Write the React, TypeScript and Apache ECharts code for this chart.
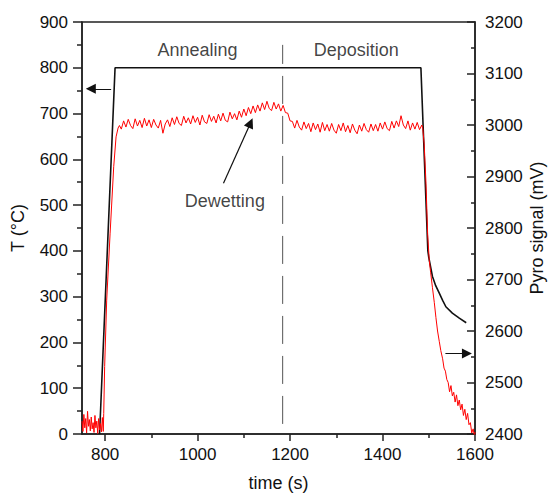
import React, { useEffect, useRef } from 'react';
import * as echarts from 'echarts';

// ---- axis ticks ----
const xTickValues = [800, 1000, 1200, 1400, 1600];
const xMinorTickValues = [900, 1100, 1300, 1500];

// ---- temperature set profile (left axis, °C) ----
const tempProfile: [number, number][] = [
  [788, 0], [821.5, 800], [1483, 800], [1498, 400], [1500, 386], [1508, 344],
  [1515, 324], [1523, 307], [1530, 292], [1537, 278], [1551, 264], [1566, 253], [1581, 243],
];

// ---- pyrometer signal (right axis, mV) ----
const pyroBaseline: [number, number][] = [
  [750, 2425], [752, 2405], [754, 2438], [756, 2412], [758, 2430], [760, 2402], [762, 2444],
  [764, 2415], [766, 2428], [768, 2406], [770, 2433], [772, 2410], [774, 2422], [776, 2403],
  [778, 2436], [780, 2412], [782, 2425], [784, 2401], [786, 2430], [788, 2408], [790, 2420],
  [792, 2404], [794, 2432], [796, 2405],
];
const pyroRise: [number, number][] = [
  [797, 2440], [799, 2531], [803.4, 2660], [810.8, 2790], [818.6, 2919], [823.7, 2977],
  [828, 2994], [831, 2999],
];
const plateauStart = 835;
const plateauStep = 5;
const pyroPlateau: number[] = [
  2992, 3008, 2996, 3011, 2999, 2993, 3012, 2998, 3009, 2995,
  3013, 2998, 3010, 2995, 3011, 3000, 2994, 3009, 2984, 3002,
  3010, 2997, 3014, 3001, 3016, 3003, 2999, 3017, 3004, 3014,
  3002, 3018, 3005, 3015, 3000, 3019, 3006, 3003, 3020, 3007,
  3017, 3004, 3021, 3008, 3023, 3009, 3006, 3025, 3012, 3022,
  3010, 3027, 3015, 3031, 3018, 3034, 3022, 3037, 3024, 3039,
  3027, 3043, 3030, 3046, 3032, 3028, 3044, 3031, 3041, 3027,
  3038, 3024, 3023, 3008, 3007, 2994, 3009, 2996, 2990, 3006,
  2993, 3003, 2987, 3004, 2991, 3002, 2986, 3005, 2989, 3001,
  2988, 3003, 2990, 2984, 3001, 2989, 3004, 2987, 2999, 2985,
  3002, 2990, 2983, 3000, 2988, 3003, 2991, 2986, 3002, 2989,
  3001, 2988, 3004, 2992, 3006, 2993, 2989, 3007, 2994, 3008,
  2997, 3018, 3000, 2993, 3008, 2990, 3004, 2992, 3005, 2991,
  3000,
];
const pyroFall: [number, number][] = [
  [1487, 2993], [1490, 2964], [1494, 2887], [1497.5, 2790], [1501, 2738], [1504, 2714],
  [1508, 2684], [1512, 2655], [1515.5, 2626], [1519, 2600], [1522.7, 2580], [1526, 2562],
  [1530, 2546], [1533, 2528], [1536, 2522], [1539, 2506], [1542, 2500], [1545, 2482],
  [1548, 2494], [1551, 2474], [1554, 2481], [1557, 2462], [1560, 2476], [1563, 2455],
  [1566, 2466], [1569, 2447], [1572, 2458], [1575, 2436], [1578, 2448], [1581, 2428],
  [1584, 2440], [1587, 2418], [1590, 2422], [1593, 2402], [1596, 2410], [1599, 2394], [1600, 2404],
];

// ---- phase boundary and annotations (data coordinates, left axis) ----
const phaseBoundaryTime = 1184;
const phaseBoundaryRange = [22, 850];
const annotationLabels = ['Annealing', 'Deposition', 'Dewetting'];
const annotationAnchors: [number, number][] = [[1000, 838], [1343, 838], [1059, 509]];
const arrowCoords: [number, number][][] = [
  [[813, 754], [769, 754]],
  [[1536, 176], [1582.6, 176]],
  [[1056, 548], [1114.5, 679.6]],
];

const FONT = '"Liberation Sans", Arial, Helvetica, sans-serif';
const INK = '#111';
const AXIS = '#222';

export default function App() {
  const ref = useRef<HTMLDivElement>(null);
  useEffect(() => {
    const chart = echarts.init(ref.current!, null, { renderer: 'svg' });
    const pyro: [number, number][] = [
      ...pyroBaseline,
      ...pyroRise,
      ...pyroPlateau.map((v, i) => [plateauStart + i * plateauStep, v] as [number, number]),
      ...pyroFall,
    ];
    const axisLineStyle = { color: AXIS, width: 1.5 };
    const plain = (v: number) => String(v);
    chart.setOption({
      animation: false,
      grid: {
        left: 82, right: 74, top: 22, bottom: 61,
        outerBoundsMode: 'none', containLabel: false,
        show: true, borderColor: AXIS, borderWidth: 1.5, backgroundColor: 'transparent',
      },
      xAxis: [
        {
          type: 'value', min: 750, max: 1600, position: 'bottom',
          name: 'time (s)', nameLocation: 'middle', nameGap: 40, nameMoveOverlap: false,
          nameTextStyle: { fontSize: 18, color: INK, fontFamily: FONT },
          axisLine: { show: true, onZero: false, lineStyle: axisLineStyle },
          axisTick: { show: true, customValues: xTickValues, length: 7, lineStyle: axisLineStyle },
          axisLabel: { customValues: xTickValues, formatter: plain, fontSize: 17, color: INK, fontFamily: FONT, margin: 12 },
          splitLine: { show: false },
        },
        {
          type: 'value', min: 750, max: 1600, position: 'bottom',
          axisLine: { show: false },
          axisTick: { show: true, customValues: xMinorTickValues, length: 4, lineStyle: axisLineStyle },
          axisLabel: { show: false },
          splitLine: { show: false },
        },
      ],
      yAxis: [
        {
          type: 'value', min: 0, max: 900, interval: 100, position: 'left',
          name: 'T (°C)', nameLocation: 'middle', nameGap: 55, nameRotate: 90, nameMoveOverlap: false,
          nameTextStyle: { fontSize: 18, color: INK, fontFamily: FONT },
          axisLine: { show: true, onZero: false, lineStyle: axisLineStyle },
          axisTick: { show: true, length: 9, lineStyle: axisLineStyle },
          minorTick: { show: true, splitNumber: 2, length: 5, lineStyle: axisLineStyle },
          axisLabel: { formatter: plain, fontSize: 17, color: INK, fontFamily: FONT, margin: 14 },
          splitLine: { show: false }, minorSplitLine: { show: false },
        },
        {
          type: 'value', min: 2400, max: 3200, interval: 100, position: 'right',
          name: 'Pyro signal (mV)', nameLocation: 'middle', nameGap: 53, nameRotate: 90, nameMoveOverlap: false,
          nameTextStyle: { fontSize: 18, lineHeight: 18, color: INK, fontFamily: FONT },
          axisLine: { show: true, onZero: false, lineStyle: axisLineStyle },
          axisTick: { show: true, inside: true, length: 8, lineStyle: axisLineStyle },
          minorTick: { show: true, splitNumber: 2, length: 4, lineStyle: axisLineStyle },
          axisLabel: { formatter: plain, fontSize: 17, color: INK, fontFamily: FONT, margin: 10 },
          splitLine: { show: false }, minorSplitLine: { show: false },
        },
      ],
      series: [
        {
          type: 'line', xAxisIndex: 0, yAxisIndex: 0, data: tempProfile,
          symbol: 'none', lineStyle: { color: '#111', width: 1.6 }, z: 3, silent: true,
        },
        {
          type: 'line', xAxisIndex: 0, yAxisIndex: 1, data: pyro,
          symbol: 'none', lineStyle: { color: '#ff0000', width: 1 }, z: 4, silent: true,
        },
        {
          type: 'line', xAxisIndex: 0, yAxisIndex: 0,
          data: [[phaseBoundaryTime, phaseBoundaryRange[0]], [phaseBoundaryTime, phaseBoundaryRange[1]]],
          symbol: 'none', lineStyle: { color: '#555', width: 1, type: [28, 12] }, z: 2, silent: true,
        },
        {
          type: 'lines', coordinateSystem: 'cartesian2d', xAxisIndex: 0, yAxisIndex: 0,
          symbol: ['none', 'triangle'], symbolSize: [7, 10],
          lineStyle: { color: '#111', width: 1.2, opacity: 1 },
          itemStyle: { color: '#111' },
          data: arrowCoords.map((c) => ({ coords: c })), z: 5, silent: true,
        },
        {
          type: 'scatter', xAxisIndex: 0, yAxisIndex: 0,
          data: annotationAnchors.map((a, i) => [a[0], a[1], annotationLabels[i]]),
          symbolSize: 1, itemStyle: { color: 'transparent' }, silent: true, z: 6,
          label: {
            show: true, position: 'inside', formatter: (p: any) => p.data[2],
            fontSize: 18, color: INK, fontFamily: FONT,
          },
        },
      ],
    });
    return () => chart.dispose();
  }, []);
  return <div ref={ref} style={{ position: 'absolute', left: 0, top: 0, width: 549, height: 495 }} />;
}
